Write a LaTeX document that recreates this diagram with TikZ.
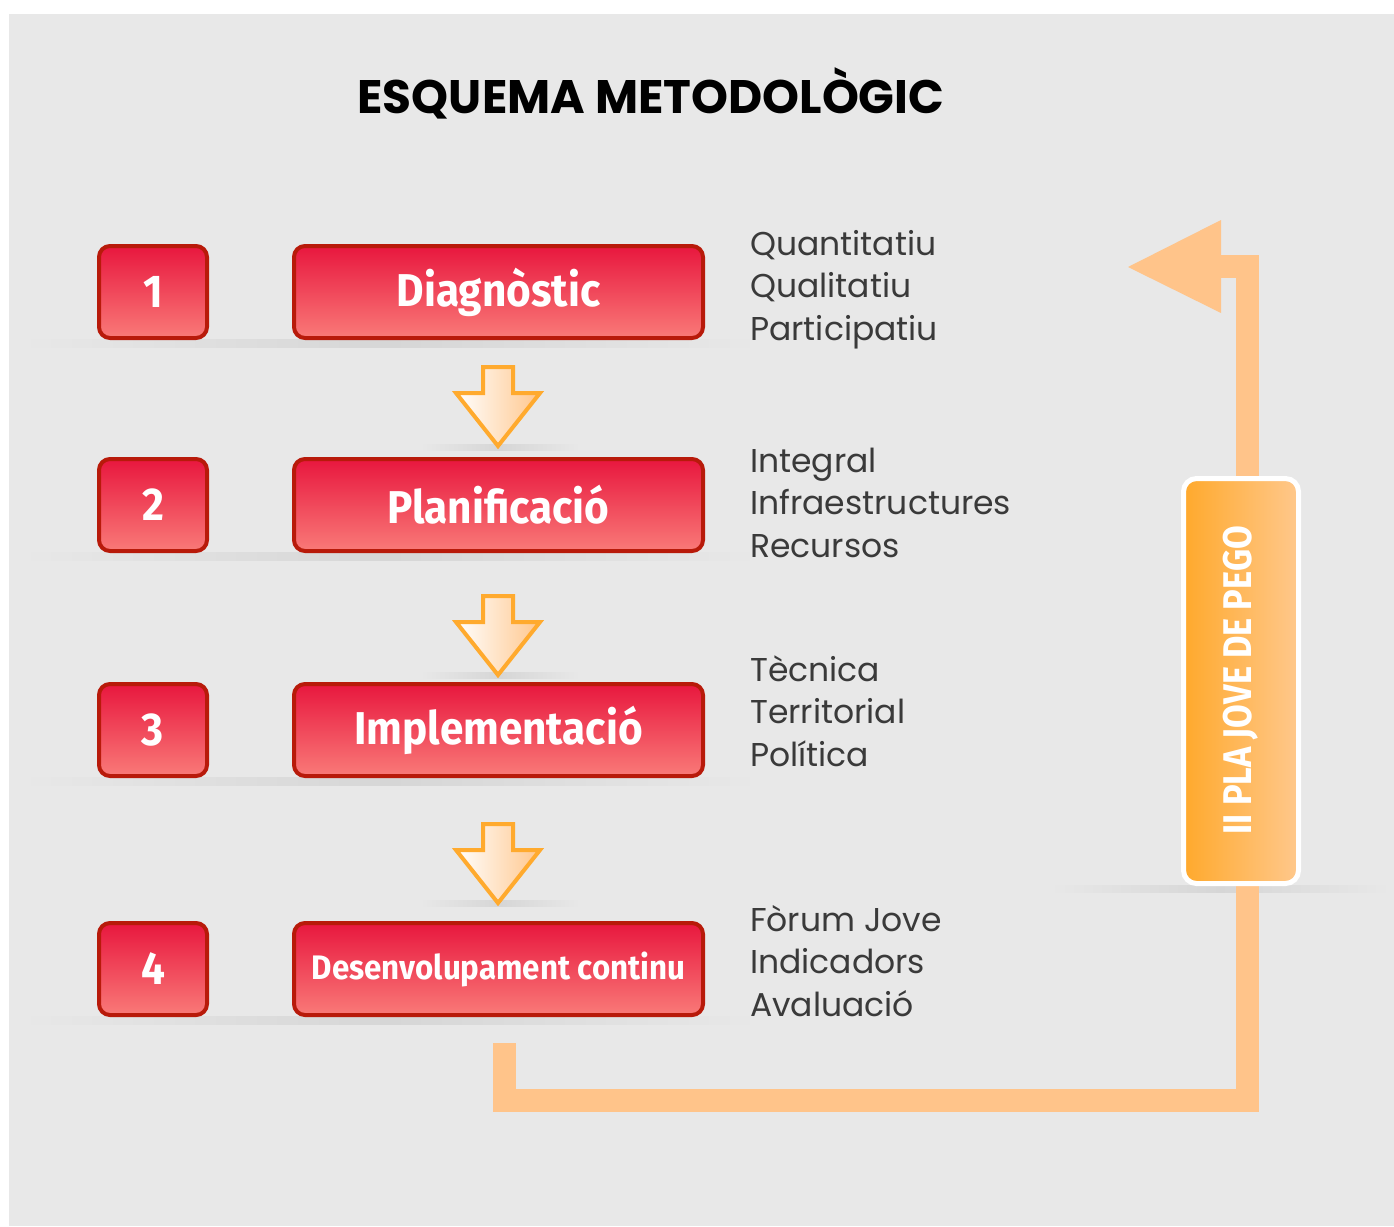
\documentclass[tikz,border=0pt]{standalone}
\usepackage{fontspec}
\setmainfont{Poppins}
\newfontfamily\cond[FakeStretch=0.92]{Fira Sans}
\newfontfamily\condb[FakeStretch=0.86]{Fira Sans}
\newfontfamily\titlefont{Poppins}
\definecolor{bg}{HTML}{E8E8E8}
\definecolor{redtop}{HTML}{E8173E}
\definecolor{redbot}{HTML}{F97A78}
\definecolor{redborder}{HTML}{B81A0A}
\definecolor{arrowline}{HTML}{FFAA2E}
\definecolor{arrowfill}{HTML}{FFC68C}
\definecolor{loopc}{HTML}{FFC48A}
\definecolor{orleft}{HTML}{FFA92C}
\definecolor{orright}{HTML}{FFC88C}
\definecolor{greytext}{HTML}{3A3A3A}
\definecolor{shadowc}{HTML}{D6D6D6}
\tikzset{
  redbox/.style={draw=redborder, line width=4pt, rounded corners=11pt,
    top color=redtop, bottom color=redbot, minimum height=92pt,
    text=white, font=\cond\bfseries\fontsize{46}{46}\selectfont, inner sep=0pt},
  numbox/.style={redbox, minimum width=108pt},
  stepbox/.style={redbox, minimum width=409pt},
  sidetext/.style={anchor=base west, text=greytext, inner sep=0pt,
    font=\fontsize{33}{33}\selectfont},
  downarr/.style={draw=arrowline, line width=4pt, line join=miter,
    left color=white, right color=arrowfill},
  rowshadow/.style={left color=bg, right color=bg, middle color=shadowc},
}
\begin{document}
\begin{tikzpicture}[x=1pt,y=-1pt]
\useasboundingbox (0,0) rectangle (1394,1226);
\fill[white] (0,0) rectangle (1394,1226);
\fill[bg] (9,14) rectangle (1394,1226);

% title
\node[font=\titlefont\bfseries\fontsize{47}{47}\selectfont, anchor=base, inner sep=0pt] (title) at (651,113) {ESQUEMA METODOLÒGIC};

% row shadows
\foreach \yb in {340,553,778,1017}{
  \fill[rowshadow] (20,\yb-1) rectangle (760,\yb+7);
}
\foreach \yb in {445,673,901}{
  \fill[rowshadow] (420,\yb-1) rectangle (580,\yb+5);
}
\fill[rowshadow] (1050,885) rectangle (1390,892);

% loop arrow
\coordinate (loopstart) at (504,1043);
\coordinate (loopc1) at (504,1100.5);
\coordinate (loopc2) at (1247,1100.5);
\coordinate (loopc3) at (1247,266);
\coordinate (loopend) at (1220,266);
\coordinate (looptip) at (1128,267);
\draw[loopc, line width=23pt, line join=miter] (loopstart) -- (loopc1) -- (loopc2) -- (loopc3) -- (loopend);
\fill[loopc] (1221,220) -- (looptip) -- (1221,313) -- cycle;

% number boxes
\node[numbox] (n1) at (153,292) {1};
\node[numbox] (n2) at (153,505) {2};
\node[numbox] (n3) at (153,730) {3};
\node[numbox] (n4) at (153,969) {4};

% step boxes
\node[stepbox] (s1) at (498.5,292) {Diagnòstic};
\node[stepbox] (s2) at (498.5,505) {Planificació};
\node[stepbox] (s3) at (498.5,730) {Implementació};
\node[stepbox, font=\cond\bfseries\fontsize{34}{34}\selectfont] (s4) at (498.5,969) {Desenvolupament continu};

% down arrows
\foreach \yt in {367,596,824}{
  \path[downarr] (483,\yt) -- (513,\yt) -- (513,\yt+26) -- (540,\yt+26)
    -- (498,\yt+79) -- (456,\yt+26) -- (483,\yt+26) -- cycle;
}

% side texts
\node[sidetext] (t11) at (750,255) {Quantitatiu};
\node[sidetext] (t12) at (750,297.5) {Qualitatiu};
\node[sidetext] (t13) at (750,340) {Participatiu};
\node[sidetext] (t21) at (750,472) {Integral};
\node[sidetext] (t22) at (750,514.5) {Infraestructures};
\node[sidetext] (t23) at (750,557) {Recursos};
\node[sidetext] (t31) at (750,681) {Tècnica};
\node[sidetext] (t32) at (750,723.5) {Territorial};
\node[sidetext] (t33) at (750,766) {Política};
\node[sidetext] (t41) at (750,931) {Fòrum Jove};
\node[sidetext] (t42) at (750,973.5) {Indicadors};
\node[sidetext] (t43) at (750,1016) {Avaluació};

% orange label box
\node[draw=white, line width=5pt, rounded corners=13pt, left color=orleft, right color=orright,
  minimum width=115pt, minimum height=405pt, inner sep=0pt] (plabox) at (1241,681) {};
\node[rotate=90, text=white, font=\condb\bfseries\fontsize{40}{40}\selectfont, inner sep=0pt] (platext) at (1241,680) {II PLA JOVE DE PEGO};
\end{tikzpicture}
\end{document}
